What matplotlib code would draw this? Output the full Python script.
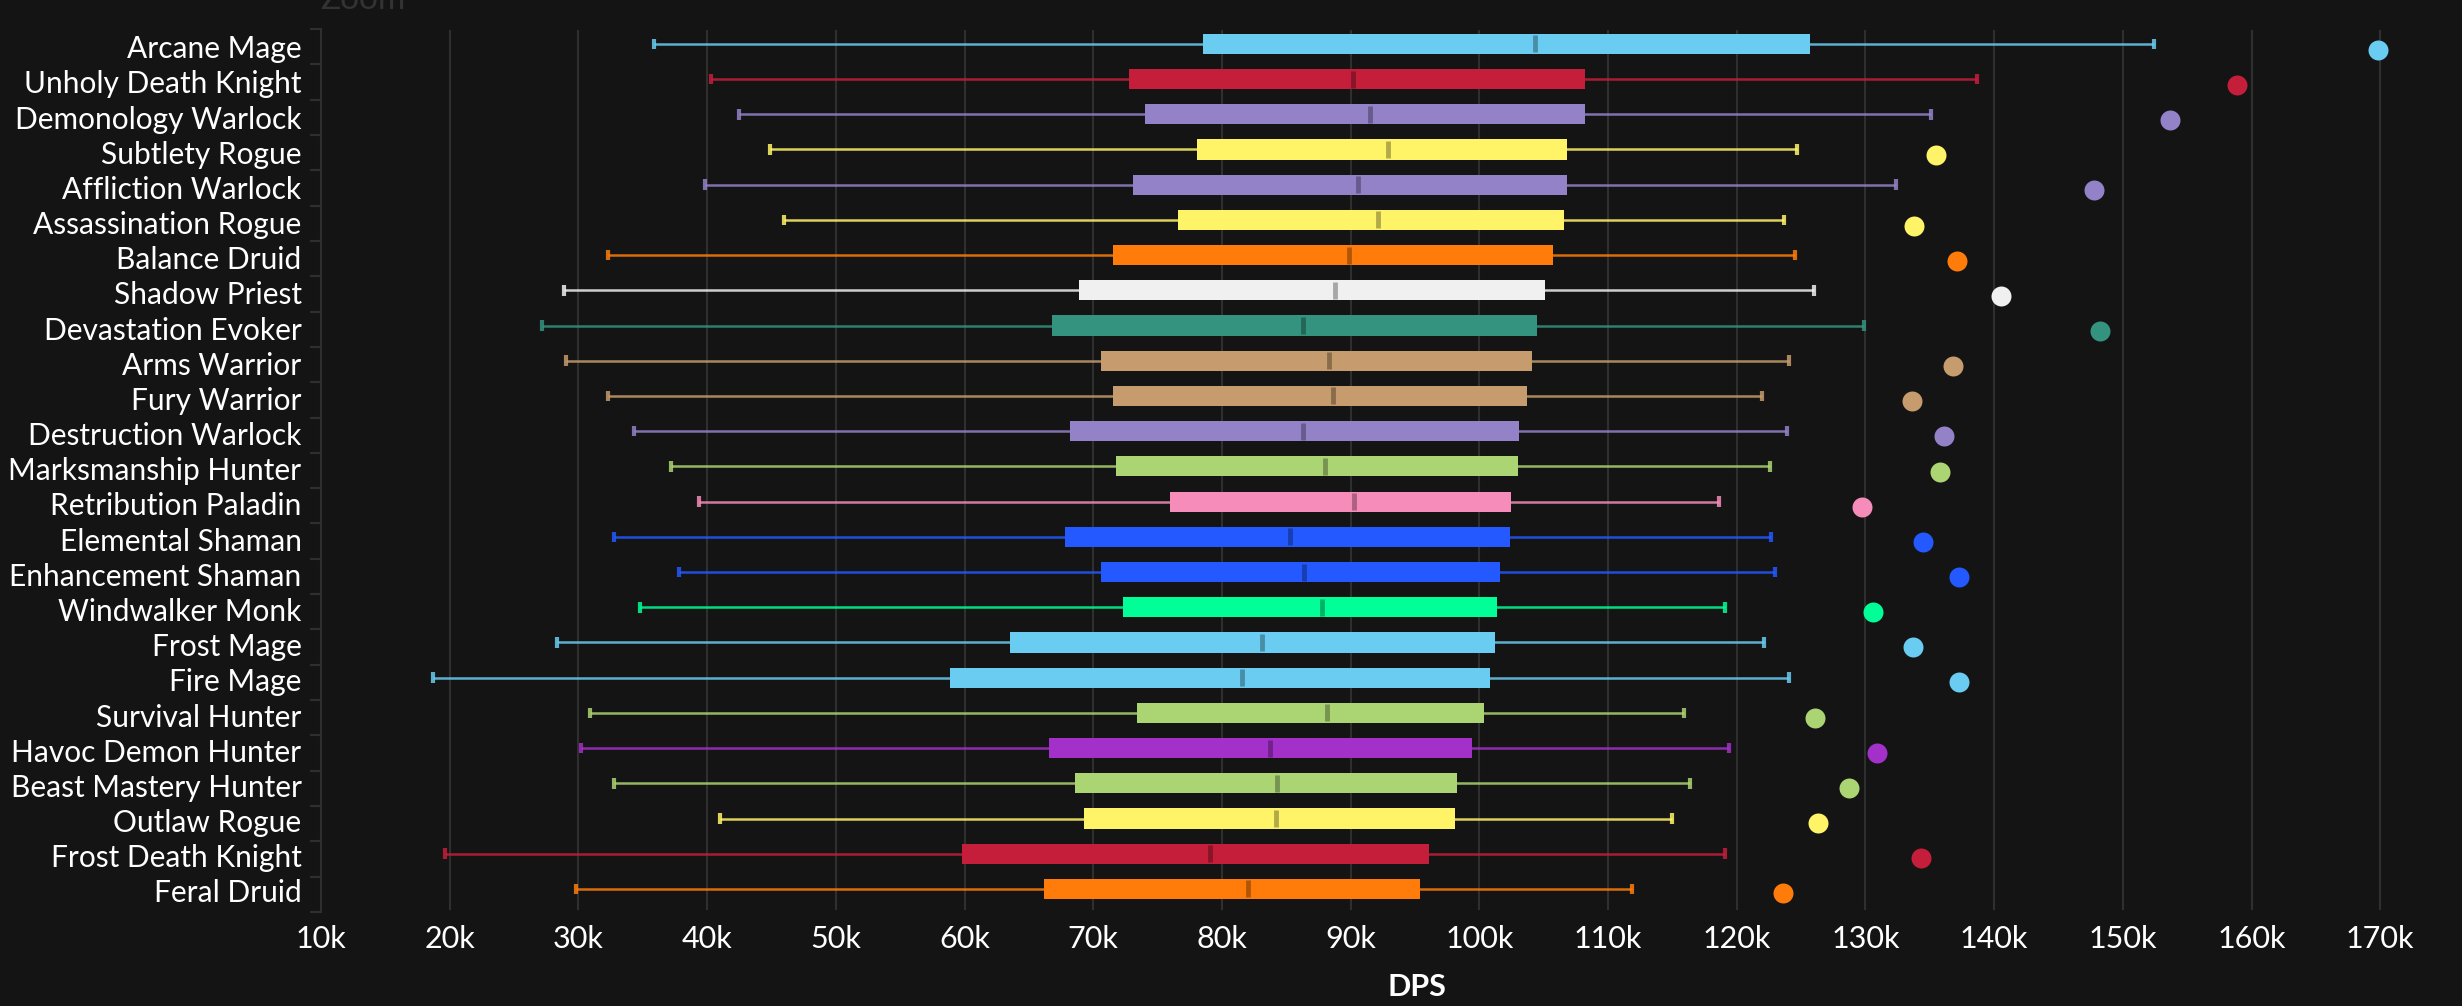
import matplotlib
matplotlib.use("Agg")
import matplotlib.pyplot as plt
import pandas as pd

# values in thousands of DPS
rows = [
    ("Arcane Mage", "#69ccf0", 35.9, 78.5, 104.3, 125.7, 152.4, 169.8),
    ("Unholy Death Knight", "#c41e3a", 40.3, 72.8, 90.2, 108.2, 138.7, 158.9),
    ("Demonology Warlock", "#9482c9", 42.5, 74.0, 91.5, 108.2, 135.1, 153.7),
    ("Subtlety Rogue", "#fff468", 44.9, 78.1, 92.9, 106.8, 124.7, 135.5),
    ("Affliction Warlock", "#9482c9", 39.8, 73.1, 90.6, 106.8, 132.4, 147.8),
    ("Assassination Rogue", "#fff468", 46.0, 76.6, 92.1, 106.6, 123.7, 133.8),
    ("Balance Druid", "#ff7c0a", 32.3, 71.5, 89.9, 105.7, 124.5, 137.1),
    ("Shadow Priest", "#f0f0f0", 28.9, 68.9, 88.8, 105.1, 126.0, 140.5),
    ("Devastation Evoker", "#33937f", 27.2, 66.8, 86.3, 104.5, 129.9, 148.2),
    ("Arms Warrior", "#c69b6d", 29.0, 70.6, 88.3, 104.1, 124.1, 136.8),
    ("Fury Warrior", "#c69b6d", 32.3, 71.5, 88.6, 103.7, 122.0, 133.6),
    ("Destruction Warlock", "#9482c9", 34.3, 68.2, 86.3, 103.1, 123.9, 136.1),
    ("Marksmanship Hunter", "#abd473", 37.2, 71.8, 88.0, 103.0, 122.6, 135.8),
    ("Retribution Paladin", "#f58cba", 39.4, 76.0, 90.3, 102.5, 118.6, 129.7),
    ("Elemental Shaman", "#2359ff", 32.8, 67.8, 85.3, 102.4, 122.7, 134.5),
    ("Enhancement Shaman", "#2359ff", 37.8, 70.6, 86.4, 101.6, 123.0, 137.3),
    ("Windwalker Monk", "#00ff96", 34.8, 72.3, 87.8, 101.4, 119.1, 130.6),
    ("Frost Mage", "#69ccf0", 28.3, 63.5, 83.1, 101.2, 122.1, 133.7),
    ("Fire Mage", "#69ccf0", 18.7, 58.9, 81.6, 100.8, 124.1, 137.3),
    ("Survival Hunter", "#abd473", 30.9, 73.4, 88.2, 100.4, 115.9, 126.1),
    ("Havoc Demon Hunter", "#a330c9", 30.2, 66.6, 83.7, 99.4, 119.4, 130.9),
    ("Beast Mastery Hunter", "#abd473", 32.8, 68.6, 84.3, 98.3, 116.4, 128.7),
    ("Outlaw Rogue", "#fff468", 41.0, 69.3, 84.2, 98.1, 115.0, 126.3),
    ("Frost Death Knight", "#c41e3a", 19.6, 59.8, 79.1, 96.1, 119.1, 134.3),
    ("Feral Druid", "#ff7c0a", 29.8, 66.2, 82.0, 95.4, 111.9, 123.6),
]
df = pd.DataFrame(rows, columns=["spec", "color", "low", "q1", "median", "q3", "high", "max"])

BG = "#141414"
GRID = "#2f2f2f"
W, H = 2462, 1006
plt.rcParams["font.family"] = ["Lato", "DejaVu Sans"]

fig = plt.figure(figsize=(W / 100, H / 100), dpi=100, facecolor=BG)
ax = fig.add_axes([321 / W, 1 - 912 / H, (W - 321) / W, (912 - 29) / H], facecolor=BG)

# 12.87 px per 1k on the x axis
ax.set_xlim(10, 10 + (W - 321) / 12.87)
ax.set_ylim(len(df), 0)

for i, r in df.iterrows():
    # rows sit a bit above the band centre and drift slightly from it
    y_line = i * 0.997 + 0.42
    y_dot = i * 0.995 + 0.59
    ax.hlines(y_line, r["low"], r["high"], color=r["color"], lw=1.8, alpha=0.85, zorder=2)
    ax.vlines([r["low"], r["high"]], y_line - 0.15, y_line + 0.15, color=r["color"], lw=3, alpha=0.85, zorder=2)
    ax.barh(y_line, r["q3"] - r["q1"], left=r["q1"], height=0.57, color=r["color"], zorder=3)
    ax.vlines(r["median"], y_line - 0.24, y_line + 0.24, color="black", alpha=0.3, lw=3.5, zorder=4)
    ax.scatter(r["max"], y_dot, s=207, color=r["color"], linewidths=0, zorder=4)

ax.vlines(range(20, 171, 10), 0.04, len(df) - 0.05, color=GRID, lw=1.5, zorder=1)

for side in ["top", "right", "bottom"]:
    ax.spines[side].set_visible(False)
ax.spines["left"].set_color(GRID)
ax.spines["left"].set_linewidth(1.5)

ax.set_yticks(range(len(df) + 1))
ax.set_yticklabels([""] * (len(df) + 1))
ax.set_yticks([i * 0.996 + 0.5 for i in range(len(df))], minor=True)
ax.set_yticklabels(df["spec"], minor=True, color="white", fontsize=21.5)
ax.tick_params(axis="y", which="major", length=8, width=1.5, color=GRID)
ax.tick_params(axis="y", which="minor", length=0, pad=14)

ticks = list(range(10, 171, 10))
ax.set_xticks(ticks)
ax.set_xticklabels([f"{t}k" for t in ticks], color="white", fontsize=22)
ax.tick_params(axis="x", length=0, pad=9.5)

fig.text(1417 / W, 1 - 987 / H, "DPS", color="white", fontsize=22, ha="center", va="center", fontweight="bold")
fig.text(363 / W, 1, "Zoom", color="#333333", fontsize=24, ha="center", va="center")

fig.savefig("out.png", dpi=100, facecolor=BG)
plt.close(fig)
